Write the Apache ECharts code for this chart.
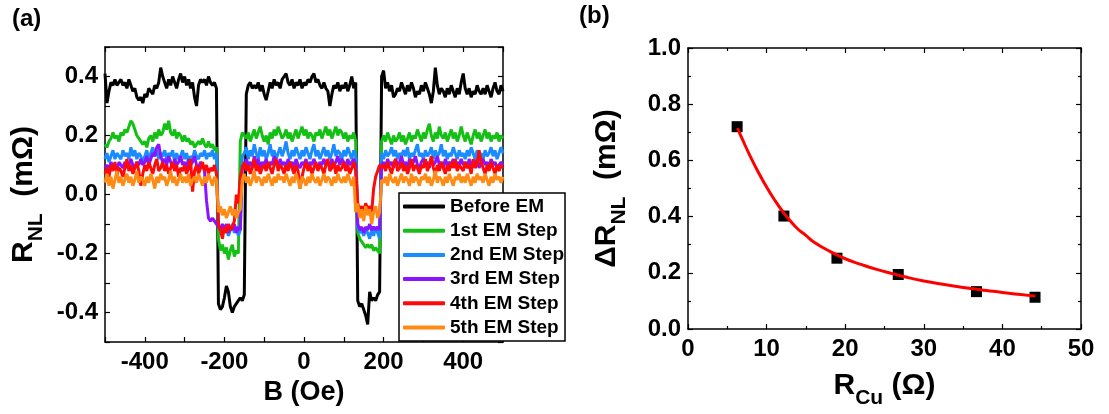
<!DOCTYPE html>
<html>
<head>
<meta charset="utf-8">
<script src="https://cdn.jsdelivr.net/npm/echarts@6/dist/echarts.min.js"></script>
<style>
html,body{margin:0;padding:0;background:#fff;}
#c{width:1109px;height:414px;}
</style>
</head>
<body>
<div id="c"></div>
<script>
// ---------- Panel (a) data ----------
const fieldB = [
-500,-495,-490,-485,-480,-475,-470,-465,-460,-455,
-450,-445,-440,-435,-430,-425,-420,-415,-410,-405,
-400,-395,-390,-385,-380,-375,-370,-365,-360,-355,
-350,-345,-340,-335,-330,-325,-320,-315,-310,-305,
-300,-295,-290,-285,-280,-275,-270,-265,-260,-255,
-250,-245,-240,-235,-230,-225,-220,-215,-210,-205,
-200,-195,-190,-185,-180,-175,-170,-165,-160,-155,
-150,-145,-140,-135,-130,-125,-120,-115,-110,-105,
-100,-95,-90,-85,-80,-75,-70,-65,-60,-55,
-50,-45,-40,-35,-30,-25,-20,-15,-10,-5,
0,5,10,15,20,25,30,35,40,45,
50,55,60,65,70,75,80,85,90,95,
100,105,110,115,120,125,130,135,140,145,
150,155,160,165,170,175,180,185,190,195,
200,205,210,215,220,225,230,235,240,245,
250,255,260,265,270,275,280,285,290,295,
300,305,310,315,320,325,330,335,340,345,
350,355,360,365,370,375,380,385,390,395,
400,405,410,415,420,425,430,435,440,445,
450,455,460,465,470,475,480,485,490,495,
500];

const beforeEM = [
0.41,0.31,0.35,0.38,0.37,0.39,0.37,0.38,0.39,0.37,
0.38,0.36,0.39,0.37,0.35,0.36,0.33,0.32,0.33,0.31,
0.34,0.33,0.36,0.35,0.34,0.37,0.36,0.38,0.43,0.40,
0.38,0.36,0.39,0.37,0.40,0.38,0.36,0.39,0.41,0.38,
0.40,0.37,0.39,0.36,0.38,0.33,0.30,0.37,0.39,0.38,
0.39,0.37,0.40,0.38,0.37,0.38,0.36,-0.37,-0.39,-0.38,
-0.35,-0.31,-0.33,-0.38,-0.40,-0.38,-0.37,-0.36,-0.35,-0.36,
-0.34,0.34,0.37,0.38,0.36,0.37,0.36,0.38,0.35,0.37,
0.34,0.32,0.35,0.38,0.36,0.39,0.37,0.38,0.36,0.39,
0.40,0.41,0.38,0.37,0.39,0.36,0.38,0.37,0.39,0.36,
0.38,0.37,0.39,0.38,0.40,0.41,0.38,0.39,0.37,0.36,
0.38,0.36,0.35,0.30,0.34,0.37,0.36,0.38,0.35,0.37,
0.36,0.38,0.35,0.37,0.40,0.36,0.38,-0.36,-0.38,-0.37,
-0.39,-0.41,-0.44,-0.33,-0.36,-0.35,-0.36,-0.34,-0.33,0.40,
0.42,0.36,0.38,0.35,0.37,0.33,0.34,0.36,0.35,0.38,
0.36,0.34,0.37,0.35,0.38,0.36,0.33,0.35,0.34,0.37,
0.35,0.38,0.36,0.34,0.31,0.35,0.43,0.37,0.34,0.36,
0.35,0.33,0.36,0.34,0.37,0.35,0.33,0.36,0.34,0.38,
0.41,0.36,0.34,0.36,0.33,0.35,0.34,0.37,0.35,0.34,
0.36,0.34,0.37,0.35,0.33,0.36,0.38,0.35,0.34,0.37,
0.35];

const step1 = [
0.17,0.16,0.18,0.19,0.21,0.19,0.20,0.18,0.21,0.20,
0.22,0.21,0.23,0.25,0.24,0.22,0.20,0.19,0.18,0.17,
0.18,0.16,0.19,0.20,0.18,0.21,0.19,0.22,0.20,0.21,
0.24,0.22,0.25,0.21,0.20,0.22,0.19,0.21,0.20,0.18,
0.20,0.18,0.19,0.17,0.18,0.16,0.17,0.18,0.17,0.19,
0.17,0.16,0.18,0.16,0.17,0.15,0.16,-0.15,-0.19,-0.17,
-0.20,-0.18,-0.22,-0.19,-0.17,-0.21,-0.19,-0.20,0.18,0.21,
0.20,0.19,0.21,0.18,0.20,0.22,0.19,0.21,0.23,0.20,
0.18,0.20,0.17,0.21,0.19,0.22,0.20,0.23,0.21,0.19,
0.20,0.22,0.19,0.21,0.18,0.20,0.22,0.19,0.21,0.23,
0.20,0.22,0.19,0.21,0.20,0.18,0.21,0.20,0.22,0.19,
0.21,0.23,0.20,0.22,0.19,0.21,0.23,0.20,0.22,0.21,
0.19,0.21,0.18,0.20,0.19,0.21,0.18,-0.13,-0.15,-0.16,
-0.17,-0.18,-0.17,-0.18,-0.17,-0.19,-0.18,-0.19,-0.20,0.18,
0.20,0.18,0.21,0.19,0.17,0.20,0.18,0.19,0.21,0.18,
0.20,0.17,0.19,0.21,0.18,0.20,0.19,0.22,0.20,0.18,
0.21,0.19,0.22,0.24,0.20,0.18,0.21,0.19,0.23,0.20,
0.19,0.21,0.18,0.20,0.22,0.19,0.21,0.18,0.20,0.23,
0.20,0.18,0.21,0.19,0.17,0.20,0.22,0.19,0.21,0.18,
0.20,0.22,0.19,0.21,0.18,0.20,0.19,0.21,0.18,0.20,
0.19];

const step2 = [
0.12,0.14,0.11,0.13,0.15,0.12,0.14,0.13,0.12,0.15,
0.13,0.14,0.12,0.16,0.13,0.15,0.12,0.14,0.13,0.11,
0.13,0.15,0.12,0.14,0.16,0.13,0.15,0.12,0.14,0.13,
0.15,0.12,0.14,0.13,0.15,0.11,0.14,0.12,0.13,0.15,
0.12,0.14,0.11,0.13,0.12,0.15,0.13,0.12,0.14,0.13,
0.15,0.12,0.14,0.13,0.15,0.12,0.14,-0.10,-0.12,-0.11,
-0.13,-0.11,-0.14,-0.12,-0.10,-0.13,-0.11,-0.14,-0.12,0.13,
0.14,0.16,0.12,0.15,0.13,0.17,0.14,0.12,0.16,0.13,
0.15,0.12,0.14,0.17,0.13,0.15,0.12,0.14,0.16,0.13,
0.15,0.18,0.14,0.12,0.15,0.13,0.16,0.14,0.12,0.15,
0.13,0.16,0.14,0.12,0.15,0.17,0.13,0.15,0.12,0.14,
0.16,0.13,0.15,0.12,0.14,0.17,0.13,0.15,0.14,0.12,
0.15,0.13,0.16,0.14,0.12,0.15,0.13,-0.11,-0.13,-0.12,
-0.14,-0.12,-0.13,-0.15,-0.12,-0.14,-0.11,-0.13,-0.15,0.14,
0.12,0.15,0.13,0.14,0.16,0.13,0.15,0.12,0.14,0.13,
0.15,0.13,0.16,0.12,0.14,0.13,0.15,0.17,0.13,0.14,
0.12,0.15,0.13,0.14,0.16,0.12,0.15,0.13,0.14,0.17,
0.13,0.15,0.12,0.14,0.13,0.16,0.14,0.12,0.15,0.13,
0.14,0.12,0.15,0.13,0.16,0.14,0.12,0.15,0.13,0.14,
0.12,0.15,0.13,0.14,0.16,0.13,0.15,0.12,0.14,0.16,
0.14];

const step3 = [
0.09,0.10,0.08,0.11,0.09,0.10,0.08,0.11,0.10,0.09,
0.11,0.09,0.10,0.12,0.10,0.09,0.11,0.10,0.12,0.10,
0.11,0.13,0.10,0.12,0.14,0.13,0.16,0.17,0.13,0.11,
0.12,0.10,0.13,0.11,0.09,0.12,0.10,0.11,0.13,0.10,
0.11,0.09,0.12,0.10,0.11,0.13,0.10,0.09,0.11,0.10,
0.08,-0.02,-0.08,-0.09,-0.08,-0.09,-0.09,-0.11,-0.12,-0.10,
-0.12,-0.10,-0.13,-0.11,-0.12,-0.10,-0.13,-0.11,-0.12,0.10,
0.09,0.12,0.10,0.11,0.09,0.13,0.10,0.12,0.09,0.11,
0.10,0.12,0.09,0.11,0.10,0.13,0.11,0.09,0.12,0.10,
0.11,0.09,0.12,0.10,0.11,0.09,0.12,0.10,0.09,0.11,
0.10,0.12,0.09,0.11,0.10,0.12,0.10,0.09,0.11,0.10,
0.12,0.10,0.11,0.09,0.12,0.10,0.11,0.13,0.10,0.12,
0.11,0.09,0.12,0.10,0.11,0.12,0.10,-0.10,-0.12,-0.11,
-0.13,-0.11,-0.12,-0.10,-0.12,-0.11,-0.12,-0.11,-0.12,0.10,
0.11,0.09,0.12,0.10,0.11,0.09,0.12,0.10,0.11,0.13,
0.10,0.11,0.09,0.12,0.10,0.11,0.13,0.10,0.09,0.11,
0.12,0.10,0.11,0.09,0.12,0.10,0.11,0.13,0.10,0.11,
0.09,0.12,0.10,0.11,0.10,0.12,0.09,0.11,0.10,0.12,
0.10,0.11,0.09,0.12,0.10,0.11,0.10,0.12,0.09,0.11,
0.12,0.10,0.11,0.09,0.12,0.10,0.11,0.09,0.10,0.11,
0.10];

const step4 = [
0.07,0.09,0.06,0.10,0.08,0.11,0.07,0.09,0.08,0.06,
0.09,0.12,0.08,0.10,0.07,0.09,0.11,0.08,0.03,0.07,
0.10,0.08,0.11,0.09,0.07,0.10,0.12,0.08,0.09,0.11,
0.08,0.10,0.07,0.09,0.11,0.08,0.10,0.06,0.09,0.08,
0.10,0.07,0.09,0.12,0.01,0.08,0.10,0.07,0.09,0.11,
0.08,0.10,0.07,0.09,0.08,0.10,0.07,-0.10,-0.12,-0.15,
-0.11,-0.13,-0.10,-0.12,-0.11,-0.09,0.00,-0.03,0.06,0.09,
0.11,0.08,0.10,0.07,0.09,0.12,0.08,0.10,0.07,0.09,
0.10,0.08,0.11,0.09,0.07,0.10,0.12,0.08,0.10,0.09,
0.07,0.10,0.08,0.11,0.09,0.07,0.10,0.08,0.02,0.06,
0.09,0.11,0.08,0.10,0.07,0.09,0.11,0.08,0.10,0.09,
0.07,0.10,0.12,0.08,0.09,0.11,0.07,0.10,0.08,0.09,
0.11,0.08,0.10,0.07,0.09,0.11,0.08,-0.03,-0.05,-0.04,
-0.06,-0.03,-0.05,-0.04,-0.06,0.02,0.06,0.08,0.10,0.09,
0.10,0.08,0.11,0.09,0.07,0.10,0.12,0.08,0.09,0.11,
0.08,0.10,0.07,0.09,0.12,0.08,0.10,0.09,0.07,0.10,
0.09,0.12,0.08,0.10,0.13,0.09,0.07,0.10,0.08,0.11,
0.09,0.07,0.10,0.08,0.11,0.09,0.12,0.08,0.10,0.09,
0.08,0.11,0.09,0.10,0.07,0.12,0.09,0.10,0.15,0.11,
0.09,0.07,0.10,0.08,0.11,0.09,0.07,0.10,0.08,0.10,
0.09];

const step5 = [
0.04,0.07,0.03,0.06,0.02,0.05,0.08,0.04,0.06,0.03,
0.05,0.07,0.04,0.06,0.03,0.05,0.08,0.04,0.06,0.05,
0.03,0.06,0.04,0.07,0.05,0.02,0.06,0.04,0.07,0.05,
0.06,0.03,0.05,0.08,0.04,0.06,0.03,0.05,0.07,0.04,
0.06,0.04,0.07,0.03,0.05,0.06,0.04,0.07,0.05,0.03,
0.06,0.04,0.07,0.05,0.03,0.06,0.05,-0.06,-0.04,-0.07,
-0.05,-0.08,-0.06,-0.04,-0.07,-0.05,-0.08,-0.06,-0.05,0.05,
0.07,0.04,0.06,0.03,0.05,0.08,0.04,0.06,0.05,0.03,
0.06,0.04,0.07,0.05,0.03,0.06,0.04,0.07,0.05,0.06,
0.04,0.07,0.05,0.03,0.06,0.04,0.07,0.05,0.02,0.06,
0.05,0.03,0.06,0.04,0.07,0.05,0.04,0.06,0.03,0.05,
0.07,0.04,0.06,0.05,0.03,0.06,0.04,0.07,0.05,0.04,
0.06,0.04,0.07,0.05,0.03,0.06,-0.06,-0.03,-0.08,-0.05,
-0.09,-0.04,-0.07,-0.05,-0.10,-0.06,-0.04,-0.08,-0.06,0.05,
0.04,0.06,0.03,0.07,0.05,0.04,0.06,0.03,0.05,0.07,
0.04,0.06,0.05,0.03,0.07,0.04,0.06,0.05,0.03,0.06,
0.05,0.07,0.04,0.06,0.03,0.05,0.08,0.04,0.06,0.05,
0.03,0.06,0.04,0.07,0.05,0.03,0.06,0.05,0.07,0.04,
0.06,0.04,0.07,0.05,0.03,0.06,0.04,0.07,0.05,0.06,
0.04,0.07,0.05,0.03,0.06,0.04,0.07,0.05,0.06,0.04,
0.06];

const seriesNamesA = ['Before EM', '1st EM Step', '2nd EM Step', '3rd EM Step', '4th EM Step', '5th EM Step'];
const seriesValuesA = [beforeEM, step1, step2, step3, step4, step5];
const seriesColorsA = ['#000000', '#14c014', '#1a8cff', '#8a14ff', '#ff0a0a', '#ff8a14'];

// ---------- Panel (b) data ----------
const rCu = [6.25, 12.2, 18.95, 26.75, 36.7, 44.15];
const dRnl = [0.72, 0.402, 0.252, 0.194, 0.133, 0.113];
const fitX = [6.3, 7, 8, 9, 10, 11, 12, 13, 14, 15, 16, 18, 20, 22, 24, 26, 28, 30, 32, 34, 36, 38, 40, 42, 44.2];
const fitY = [0.715, 0.67, 0.61, 0.555, 0.505, 0.46, 0.42, 0.385, 0.355, 0.333, 0.31, 0.277, 0.25, 0.23, 0.212, 0.197, 0.183, 0.171, 0.161, 0.152, 0.144, 0.137, 0.13, 0.124, 0.117];

// ---------- chart ----------
const FONT = '"Liberation Sans", Arial, sans-serif';
const lbl = {color: '#000', fontFamily: FONT, fontWeight: 'bold', fontSize: 24};
const axLine = {show: true, onZero: false, lineStyle: {color: '#000', width: 1.5}};
const tick = {show: true, inside: true, length: 5, lineStyle: {color: '#000', width: 1.2}};
const minor = {show: true, splitNumber: 2, length: 3, lineStyle: {color: '#000', width: 1.2}};

const nameRich = {
  r: {fontFamily: FONT, fontWeight: 'bold', fontSize: 30, color: '#000', lineHeight: 46},
  s: {fontFamily: FONT, fontWeight: 'bold', fontSize: 21, color: '#000', verticalAlign: 'bottom', lineHeight: 21},
  n: {fontFamily: FONT, fontWeight: 'bold', fontSize: 30, color: '#000', lineHeight: 46}
};

const lineSeries = seriesNamesA.map((nm, k) => ({
  name: nm, type: 'line', xAxisIndex: 0, yAxisIndex: 0,
  data: fieldB.map((b, i) => [b, seriesValuesA[k][i]]),
  showSymbol: false, symbol: 'none',
  lineStyle: {color: seriesColorsA[k], width: 3},
  itemStyle: {color: seriesColorsA[k]},
  animation: false, z: 2 + k
}));

const option = {
  animation: false,
  backgroundColor: '#fff',
  graphic: [
    {type: 'text', left: 12, top: 7, style: {text: '(a)', font: 'bold 24px ' + FONT, fill: '#000'}},
    {type: 'text', left: 579, top: 4, style: {text: '(b)', font: 'bold 24px ' + FONT, fill: '#000'}}
  ],
  grid: [
    {left: 105, right: 606, top: 47, bottom: 72},
    {left: 688, right: 28, top: 48, bottom: 71}
  ],
  legend: {
    left: 399, top: 193, orient: 'vertical',
    data: seriesNamesA,
    icon: 'roundRect', itemWidth: 42, itemHeight: 4, itemGap: 5.2,
    padding: [4, 1, 4, 4],
    backgroundColor: '#fff', borderColor: '#000', borderWidth: 1.5, borderRadius: 0,
    textStyle: {color: '#000', fontFamily: FONT, fontWeight: 'bold', fontSize: 19},
    selectedMode: false, z: 20
  },
  xAxis: [
    {gridIndex: 0, type: 'value', min: -500, max: 500, interval: 100, position: 'bottom',
     axisLine: axLine, axisTick: tick, splitLine: {show: false},
     axisLabel: Object.assign({margin: 8, formatter: v => (Math.round(v) % 200 === 0 ? String(Math.round(v)) : '')}, lbl),
     name: 'B (Oe)', nameLocation: 'middle', nameGap: 37,
     nameTextStyle: {fontFamily: FONT, fontWeight: 'bold', fontSize: 27, color: '#000'}},
    {gridIndex: 0, type: 'value', min: -500, max: 500, interval: 100, position: 'top',
     axisLine: axLine, axisTick: tick, splitLine: {show: false}, axisLabel: {show: false}},
    {gridIndex: 1, type: 'value', min: 0, max: 50, interval: 10, position: 'bottom',
     axisLine: axLine, axisTick: tick, minorTick: minor, splitLine: {show: false},
     axisLabel: Object.assign({margin: 8}, lbl),
     name: '{r|R}{s|Cu}{n| (Ω)}', nameLocation: 'middle', nameGap: 34,
     nameTextStyle: {rich: nameRich}},
    {gridIndex: 1, type: 'value', min: 0, max: 50, interval: 10, position: 'top',
     axisLine: axLine, axisTick: tick, minorTick: minor, splitLine: {show: false}, axisLabel: {show: false}}
  ],
  yAxis: [
    {gridIndex: 0, type: 'value', min: -0.5, max: 0.5, interval: 0.1, position: 'left',
     axisLine: axLine, axisTick: tick, splitLine: {show: false},
     axisLabel: Object.assign({margin: 7, formatter: v => (Math.abs(Math.round(v * 10)) % 2 === 0 ? (Math.round(v * 10) / 10).toFixed(1) : '')}, lbl),
     name: '{r|R}{s|NL}{n|  (mΩ)}', nameLocation: 'middle', nameGap: 58, nameRotate: 90,
     nameTextStyle: {rich: nameRich}},
    {gridIndex: 0, type: 'value', min: -0.5, max: 0.5, interval: 0.1, position: 'right',
     axisLine: axLine, axisTick: tick, splitLine: {show: false}, axisLabel: {show: false}},
    {gridIndex: 1, type: 'value', min: 0, max: 1, interval: 0.2, position: 'left',
     axisLine: axLine, axisTick: tick, minorTick: minor, splitLine: {show: false},
     axisLabel: Object.assign({margin: 7, formatter: v => v.toFixed(1)}, lbl),
     name: '{r|ΔR}{s|NL}{n|  (mΩ)}', nameLocation: 'middle', nameGap: 58, nameRotate: 90,
     nameTextStyle: {rich: nameRich}},
    {gridIndex: 1, type: 'value', min: 0, max: 1, interval: 0.2, position: 'right',
     axisLine: axLine, axisTick: tick, minorTick: minor, splitLine: {show: false}, axisLabel: {show: false}}
  ],
  series: lineSeries.concat([
    {name: 'data', type: 'scatter', xAxisIndex: 2, yAxisIndex: 2,
     data: rCu.map((x, i) => [x, dRnl[i]]),
     symbol: 'rect', symbolSize: 11, itemStyle: {color: '#000', opacity: 1}, z: 3},
    {name: 'fit', type: 'line', xAxisIndex: 2, yAxisIndex: 2,
     data: fitX.map((x, i) => [x, fitY[i]]),
     smooth: true, showSymbol: false, symbol: 'none',
     lineStyle: {color: '#ff0000', width: 3}, z: 4}
  ])
};

const chart = echarts.init(document.getElementById('c'), null, {renderer: 'canvas'});
chart.setOption(option);
</script>
</body>
</html>
